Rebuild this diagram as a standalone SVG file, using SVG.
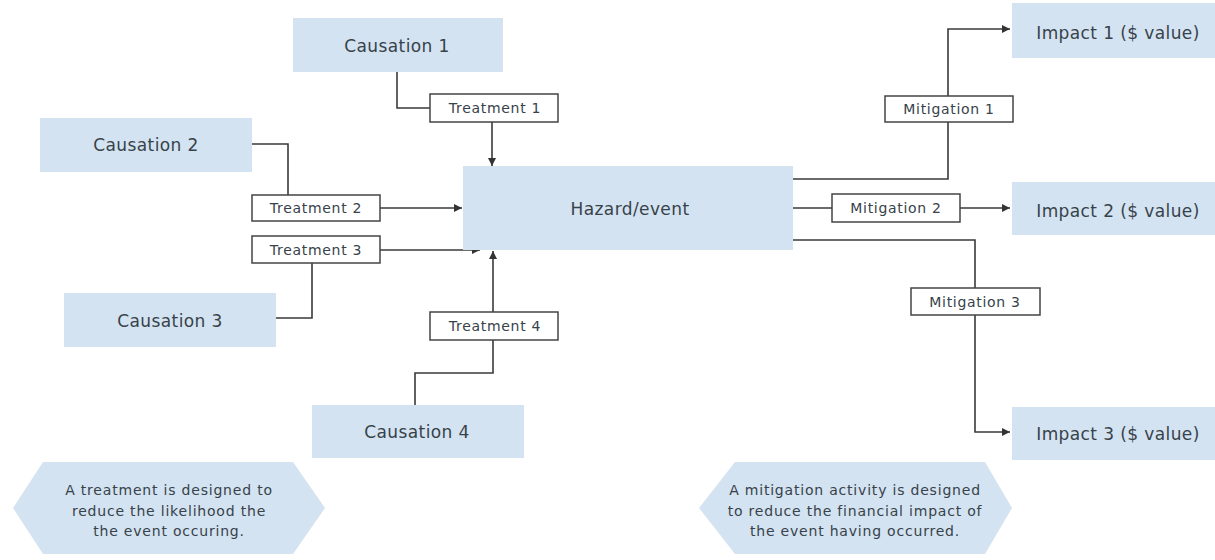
<svg xmlns="http://www.w3.org/2000/svg" width="1215" height="560" viewBox="0 0 1215 560">
<style>
.node{fill:#d4e3f1}
.lbl{fill:#fff;stroke:#444;stroke-width:1.5}
.t{font-family:"DejaVu Sans","Liberation Sans",sans-serif;fill:#37424a;text-anchor:middle;dominant-baseline:central}
.big{font-size:17px;letter-spacing:0.4px}
.sm{font-size:14px;letter-spacing:0.7px}
.note{font-size:14px;letter-spacing:0.8px}
.c{fill:none;stroke:#3a3a3a;stroke-width:1.6}
</style>
<defs>
<marker id="ah" viewBox="0 0 10 10" refX="10" refY="5" markerWidth="8" markerHeight="8" markerUnits="userSpaceOnUse" orient="auto">
<path d="M0,0 L10,5 L0,10 z" fill="#333"/>
</marker>
</defs>
<rect width="1215" height="560" fill="#fff"/>
<g id="connectors">
<polyline class="c" points="397,72 397,108 430,108"/>
<line class="c" x1="492" y1="122" x2="492" y2="166" marker-end="url(#ah)"/>
<polyline class="c" points="252,144 288,144 288,195"/>
<line class="c" x1="380" y1="208" x2="462" y2="208" marker-end="url(#ah)"/>
<line class="c" x1="380" y1="250" x2="480" y2="250" marker-end="url(#ah)"/>
<polyline class="c" points="276,318 312,318 312,263"/>
<polyline class="c" points="415,405 415,373 493,373 493,340"/>
<line class="c" x1="493" y1="312" x2="493" y2="251" marker-end="url(#ah)"/>
<polyline class="c" points="793,179 948,179 948,122"/>
<polyline class="c" points="948,96 948,29 1010,29" marker-end="url(#ah)"/>
<line class="c" x1="793" y1="208" x2="832" y2="208"/>
<line class="c" x1="960" y1="208" x2="1010" y2="208" marker-end="url(#ah)"/>
<polyline class="c" points="793,240 975,240 975,288"/>
<polyline class="c" points="975,315 975,432 1010,432" marker-end="url(#ah)"/>
</g>
<g id="causation1"><rect class="node" x="293" y="18" width="210" height="54"/><text class="t big" x="397" y="46">Causation 1</text></g>
<g id="causation2"><rect class="node" x="40" y="118" width="212" height="54"/><text class="t big" x="146" y="145">Causation 2</text></g>
<g id="causation3"><rect class="node" x="64" y="293" width="212" height="54"/><text class="t big" x="170" y="321">Causation 3</text></g>
<g id="causation4"><rect class="node" x="312" y="405" width="212" height="53"/><text class="t big" x="417" y="432">Causation 4</text></g>
<g id="hazard"><rect class="node" x="463" y="166" width="330" height="84"/><text class="t big" x="630" y="209">Hazard/event</text></g>
<g id="impact1"><rect class="node" x="1012" y="3" width="203" height="55"/><text class="t big" x="1118" y="33">Impact 1 ($ value)</text></g>
<g id="impact2"><rect class="node" x="1012" y="182" width="203" height="53"/><text class="t big" x="1118" y="211">Impact 2 ($ value)</text></g>
<g id="impact3"><rect class="node" x="1012" y="407" width="203" height="53"/><text class="t big" x="1118" y="434">Impact 3 ($ value)</text></g>
<g id="treatment1"><rect class="lbl" x="430" y="94" width="128" height="28"/><text class="t sm" x="495" y="108">Treatment 1</text></g>
<g id="treatment2"><rect class="lbl" x="252" y="195" width="128" height="26"/><text class="t sm" x="316" y="208">Treatment 2</text></g>
<g id="treatment3"><rect class="lbl" x="252" y="236" width="128" height="27"/><text class="t sm" x="316" y="250">Treatment 3</text></g>
<g id="treatment4"><rect class="lbl" x="430" y="312" width="128" height="28"/><text class="t sm" x="495" y="326">Treatment 4</text></g>
<g id="mitigation1"><rect class="lbl" x="885" y="96" width="128" height="26"/><text class="t sm" x="949" y="109">Mitigation 1</text></g>
<g id="mitigation2"><rect class="lbl" x="832" y="194" width="128" height="28"/><text class="t sm" x="896" y="208">Mitigation 2</text></g>
<g id="mitigation3"><rect class="lbl" x="911" y="288" width="129" height="27"/><text class="t sm" x="975" y="302">Mitigation 3</text></g>
<g id="note-treatment"><polygon class="node" points="13,508 43,462 293,462 325,508 293,554 43,554"/>
<text class="t note" x="169" y="490">A treatment is designed to</text>
<text class="t note" x="169" y="511">reduce the likelihood the</text>
<text class="t note" x="169" y="531">the event occuring.</text></g>
<g id="note-mitigation"><polygon class="node" points="699,508 735,462 985,462 1012,508 985,554 735,554"/>
<text class="t note" x="855" y="490">A mitigation activity is designed</text>
<text class="t note" x="855" y="511">to reduce the financial impact of</text>
<text class="t note" x="855" y="531">the event having occurred.</text></g>
</svg>
